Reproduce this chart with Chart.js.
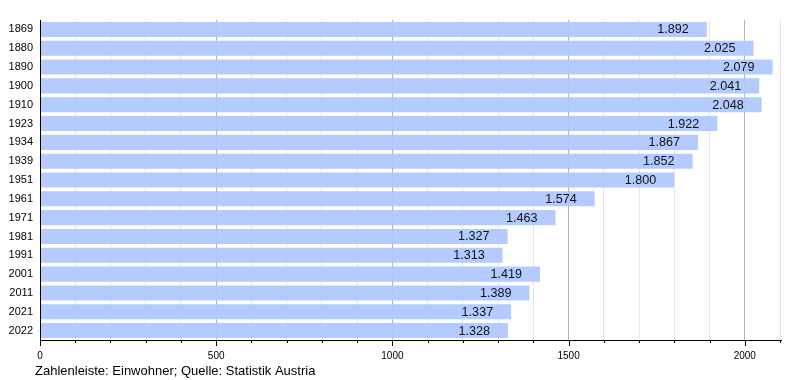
<!DOCTYPE html>
<html><head><meta charset="utf-8">
<script src="https://cdn.jsdelivr.net/npm/chart.js@4/dist/chart.umd.min.js"></script>
<style>html,body{margin:0;padding:0;background:#fff}#wrap{width:800px;height:380px;position:relative}</style>
</head><body><div id="wrap"><canvas id="c" width="800" height="380"></canvas></div>
<script>
const years = ["1869","1880","1890","1900","1910","1923","1934","1939","1951","1961","1971","1981","1991","2001","2011","2021","2022"];
const population = [1892,2025,2079,2041,2048,1922,1867,1852,1800,1574,1463,1327,1313,1419,1389,1337,1328];
const xTickLabels = [0,500,1000,1500,2000];
const footerText = "Zahlenleiste: Einwohner; Quelle: Statistik Austria";
const FONT = "'Liberation Sans', Arial, sans-serif";

const fmt = v => v.toLocaleString('de-DE');

const extras = {
  id: 'extras',
  afterDatasetsDraw(chart) {
    const ctx = chart.ctx;
    const meta = chart.getDatasetMeta(0);
    ctx.save();
    ctx.font = "12.6px " + FONT;
    ctx.fillStyle = '#111';
    ctx.textAlign = 'right';
    ctx.textBaseline = 'middle';
    meta.data.forEach((bar, i) => {
      ctx.fillText(fmt(population[i]), bar.x - 18, bar.y + 0.5);
    });
    ctx.restore();
  },
  afterDraw(chart) {
    const ctx = chart.ctx;
    const xs = chart.scales.x;
    const area = chart.chartArea;
    ctx.save();
    ctx.strokeStyle = '#000';
    ctx.lineWidth = 1;
    ctx.beginPath();
    for (let v = 0; v <= 2100; v += 100) {
      const px = Math.round(xs.getPixelForValue(v)) + 0.5;
      const len = (v % 500 === 0) ? 6 : 3;
      ctx.moveTo(px, area.bottom);
      ctx.lineTo(px, area.bottom + len);
    }
    ctx.stroke();
    ctx.beginPath();
    ctx.moveTo(area.left, area.bottom + 0.5);
    ctx.lineTo(area.right + 2, area.bottom + 0.5);
    ctx.moveTo(area.left + 0.5, area.top);
    ctx.lineTo(area.left + 0.5, area.bottom);
    ctx.stroke();
    ctx.font = "13px " + FONT;
    ctx.fillStyle = '#000';
    ctx.textAlign = 'left';
    ctx.textBaseline = 'middle';
    ctx.fillText(footerText, 35, 371);
    ctx.restore();
  }
};

new Chart(document.getElementById('c'), {
  type: 'bar',
  data: {
    labels: years,
    datasets: [{
      data: population,
      backgroundColor: 'rgba(176,200,255,0.95)',
      borderWidth: 0,
      barPercentage: 0.8,
      categoryPercentage: 1.0
    }]
  },
  options: {
    indexAxis: 'y',
    responsive: false,
    animation: false,
    devicePixelRatio: 1,
    layout: { padding: { top: 20, right: 20, left: 0, bottom: 0 } },
    plugins: { legend: { display: false }, tooltip: { enabled: false } },
    scales: {
      x: {
        type: 'linear',
        min: 0, max: 2100,
        afterFit(s) { s.height = 40; },
        border: { display: false },
        grid: {
          drawTicks: false,
          color: ctx => (ctx.tick && ctx.tick.value % 500 === 0) ? (ctx.tick.value === 0 ? 'rgba(0,0,0,0)' : '#b4b4b4') : '#e6e6e6',
          lineWidth: 1
        },
        ticks: {
          stepSize: 100,
          autoSkip: false,
          maxRotation: 0,
          padding: 10,
          color: '#000',
          font: { size: 10, family: FONT },
          callback: v => xTickLabels.includes(v) ? String(v) : ''
        }
      },
      y: {
        afterFit(s) { s.width = 40; },
        border: { display: false },
        grid: { display: false, drawTicks: false },
        ticks: {
          padding: 7,
          color: '#000',
          font: { size: 11, family: FONT }
        }
      }
    }
  },
  plugins: [extras]
});
</script></body></html>
